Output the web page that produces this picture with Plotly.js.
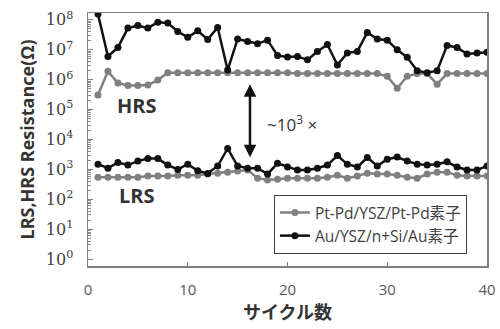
<!DOCTYPE html>
<html>
<head>
<meta charset="utf-8">
<script src="https://cdn.plot.ly/plotly-3.0.1.min.js"></script>
<style>html,body{margin:0;padding:0;background:#fff;}#chart{width:500px;height:329px;}</style>
</head>
<body>
<div id="chart"></div>
<script>
var cycles = [1,2,3,4,5,6,7,8,9,10,11,12,13,14,15,16,17,18,19,20,21,22,23,24,25,26,27,28,29,30,31,32,33,34,35,36,37,38,39,40];

var ptHRS = [3.1e5,1.9e6,7.7e5,6.4e5,6.4e5,6.6e5,9.7e5,1.7e6,1.7e6,1.7e6,
             1.7e6,1.7e6,1.7e6,1.7e6,1.7e6,1.7e6,1.7e6,1.7e6,1.7e6,1.7e6,
             1.6e6,1.6e6,1.6e6,1.6e6,1.6e6,1.6e6,1.6e6,1.6e6,1.6e6,1.3e6,
             5.2e5,1.3e6,1.6e6,1.6e6,7.1e5,1.6e6,1.6e6,1.6e6,1.6e6,1.6e6];
var ptLRS = [5.5e2,5.5e2,5.5e2,5.5e2,5.5e2,6.0e2,6.0e2,6.0e2,6.4e2,6.4e2,
             6.4e2,7.0e2,7.5e2,8.1e2,8.8e2,9.5e2,5.1e2,4.4e2,4.7e2,5.1e2,
             5.1e2,5.1e2,5.1e2,5.5e2,6.4e2,5.1e2,6.0e2,7.5e2,7.0e2,7.0e2,
             6.4e2,5.5e2,5.1e2,7.0e2,8.1e2,8.1e2,6.4e2,6.0e2,6.0e2,6.0e2];
var auHRS = [1.56e8,6.0e6,1.2e7,5.3e7,6.5e7,5.3e7,8.4e7,7.8e7,4.1e7,2.6e7,
             4.3e7,2.2e7,5.6e7,2.1e6,2.3e7,1.9e7,1.6e7,2.1e7,6.5e6,5.7e6,
             6.0e6,4.6e6,8.8e6,1.5e7,3.1e6,7.8e6,8.8e6,3.8e7,2.3e7,2.1e7,
             1.0e7,5.6e6,2.0e6,1.7e6,2.0e6,1.4e7,1.2e7,7.2e6,7.8e6,8.2e6];
var auLRS = [1.5e3,1.1e3,1.7e3,1.4e3,1.9e3,2.3e3,2.3e3,1.4e3,1.0e3,1.5e3,
             9.0e2,7.3e2,1.3e3,5.0e3,1.3e3,1.1e3,1.1e3,7.0e2,1.6e3,1.2e3,
             9.5e2,9.5e2,1.1e3,1.4e3,2.9e3,1.5e3,1.2e3,2.5e3,1.3e3,2.2e3,
             2.6e3,1.9e3,1.5e3,1.4e3,1.5e3,1.8e3,1.2e3,9.5e2,9.5e2,1.3e3];

var seriesNames = ['Pt-Pd/YSZ/Pt-Pd素子', 'Au/YSZ/n+Si/Au素子'];
var yTickVals = [1,10,100,1e3,1e4,1e5,1e6,1e7,1e8];
var yTickText = ['10<sup>0</sup>','10<sup>1</sup>','10<sup>2</sup>','10<sup>3</sup>','10<sup>4</sup>','10<sup>5</sup>','10<sup>6</sup>','10<sup>7</sup>','10<sup>8</sup>'];

var minorVals = [];
for (var d = 0; d < 8; d++) for (var m = 2; m <= 9; m++) minorVals.push(m * Math.pow(10, d));

var grayC = '#808080', blackC = '#111111';
function tr(y, name, color, show) {
  return {x: cycles, y: y, type: 'scatter', mode: 'lines+markers', name: name,
    legendgroup: name, showlegend: show,
    line: {color: color, width: 2.5}, marker: {color: color, size: 7}};
}
var data = [
  tr(ptHRS, seriesNames[0], grayC, true),
  tr(ptLRS, seriesNames[0], grayC, false),
  tr(auHRS, seriesNames[1], blackC, true),
  tr(auLRS, seriesNames[1], blackC, false)
];

var sans = 'Open Sans, Noto Sans CJK JP, sans-serif';
var layout = {
  width: 500, height: 329,
  margin: {l: 88, r: 13, t: 13, b: 63, pad: 0},
  paper_bgcolor: '#fff', plot_bgcolor: '#fff',
  showlegend: true,
  xaxis: {
    range: [0, 40], tickmode: 'linear', tick0: 0, dtick: 10,
    ticks: 'inside', ticklen: 4, tickcolor: '#7f7f7f',
    showgrid: false, zeroline: false, showline: true, mirror: true,
    linecolor: '#7f7f7f', linewidth: 1.5,
    ticklabelstandoff: 9,
    tickfont: {family: sans, size: 15, color: '#595959'},
    title: {text: '<b>サイクル数</b>', font: {family: 'Noto Sans CJK JP, sans-serif', size: 18, color: '#333'}, standoff: 9}
  },
  yaxis: {
    type: 'log', range: [-0.23, 8.23],
    tickmode: 'array', tickvals: yTickVals, ticktext: yTickText,
    ticks: 'inside', ticklen: 5, tickcolor: '#7f7f7f',
    minor: {tickmode: 'array', tickvals: minorVals, ticks: 'inside', ticklen: 3, tickcolor: '#8a8a8a', showgrid: false},
    showgrid: false, zeroline: false, showline: true, mirror: true,
    linecolor: '#7f7f7f', linewidth: 1.5,
    ticklabelstandoff: 10,
    tickfont: {family: 'DejaVu Serif, serif', size: 16, color: '#404040'},
    title: {text: '<b>LRS,HRS Resistance(Ω)</b>', font: {family: sans, size: 18, color: '#333'}, standoff: 6}
  },
  legend: {
    x: 0.466, y: 0.281, xanchor: 'left', yanchor: 'top',
    bgcolor: '#fff', bordercolor: '#404040', borderwidth: 1,
    font: {family: sans, size: 15.5, color: '#404040'},
    itemwidth: 30, tracegroupgap: 0
  },
  annotations: [
    {x: 4.9, y: 5.15, xref: 'x', yref: 'y', text: '<b>HRS</b>', showarrow: false,
     font: {family: sans, size: 20, color: '#333'}},
    {x: 4.9, y: 2.14, xref: 'x', yref: 'y', text: '<b>LRS</b>', showarrow: false,
     font: {family: sans, size: 20, color: '#333'}},
    {x: 20.5, y: 4.55, xref: 'x', yref: 'y', text: '~10<sup>3</sup> ×', showarrow: false,
     font: {family: sans, size: 17, color: '#333'}},
    {x: 16.24, y: 5.85, ax: 16.24, ay: 3.36, xref: 'x', yref: 'y', axref: 'x', ayref: 'y',
     text: '', showarrow: true, arrowhead: 2, arrowside: 'end+start', arrowsize: 1, arrowwidth: 2.5, arrowcolor: '#111'}
  ]
};
Plotly.newPlot('chart', data, layout, {displayModeBar: false, staticPlot: true});
</script>
</body>
</html>
